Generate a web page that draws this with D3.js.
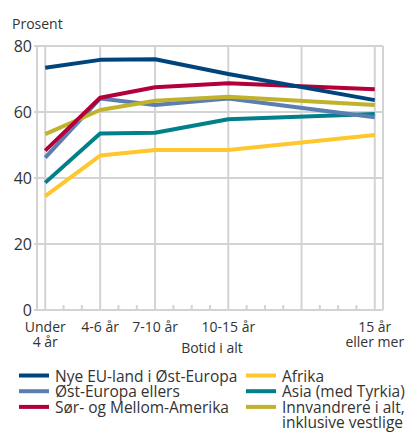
<!DOCTYPE html>
<html>
<head>
<meta charset="utf-8">
<script src="https://cdn.jsdelivr.net/npm/d3@7"></script>
<style>
  body { margin: 0; background: #fff; }
  svg { display: block; font-family: "Open Sans", sans-serif; }
</style>
</head>
<body>
<div id="chart"></div>
<script>
// botid (år) for each point, labels placed on these
const categories = ['Under\n4 år', '4-6 år', '7-10 år', '10-15 år', '15 år\neller mer'];
const years = [0, 3, 6, 10, 18];
const gridYears = [0, 3, 6, 10, 14, 18];
const yTicks = [0, 20, 40, 60, 80];

const seriesNames = [
  'Nye EU-land i Øst-Europa',
  'Øst-Europa ellers',
  'Sør- og Mellom-Amerika',
  'Afrika',
  'Asia (med Tyrkia)',
  'Innvandrere i alt,\ninklusive vestlige'
];
const nyeEu = [73.4, 75.8, 76.0, 71.5, 63.6];
const ostEuropa = [46.2, 64.1, 62.1, 64.1, 58.4];
const sorAmerika = [48.3, 64.3, 67.5, 68.7, 66.9];
const afrika = [34.5, 46.8, 48.5, 48.5, 53.0];
const asia = [38.6, 53.5, 53.7, 57.8, 59.4];
const iAlt = [53.3, 60.6, 63.4, 64.6, 62.1];

const colors = ['#00447c', '#5b7db1', '#b3003b', '#ffc72c', '#00808a', '#c1b22c'];
// drawing order (back to front)
const drawOrder = [3, 4, 1, 5, 2, 0];

const width = 406;
const height = 436;
const margin = {top: 46, right: 23, bottom: 126, left: 37};

const values = [nyeEu, ostEuropa, sorAmerika, afrika, asia, iAlt];
const series = seriesNames.map((name, i) => ({
  name,
  color: colors[i],
  points: years.map((yr, j) => ({x: yr, y: values[i][j]}))
}));

const svg = d3.select('#chart')
    .append('svg')
    .attr('width', width)
    .attr('height', height);

const x = d3.scaleLinear()
    .domain([-0.45, 18.45])
    .range([margin.left, width - margin.right]);
const y = d3.scaleLinear()
    .domain([0, 80])
    .range([height - margin.bottom, margin.top]);

const grid = svg.append('g')
    .attr('stroke', '#d3d3d3')
    .attr('stroke-width', 2)
    .attr('fill', 'none');

// horizontal grid
grid.selectAll()
    .data(yTicks)
    .join('line')
    .attr('x1', margin.left - 3)
    .attr('x2', width - margin.right)
    .attr('y1', (d) => y(d))
    .attr('y2', (d) => y(d));

// vertical grid + frame
grid.selectAll()
    .data(gridYears.concat([-0.45, 18.45]))
    .join('line')
    .attr('x1', (d) => x(d))
    .attr('x2', (d) => x(d))
    .attr('y1', y(80))
    .attr('y2', y(0));

// minor ticks, one per year
grid.selectAll()
    .data(d3.range(1, 18).filter((d) => !gridYears.includes(d)))
    .join('line')
    .attr('x1', (d) => x(d))
    .attr('x2', (d) => x(d))
    .attr('y1', y(0))
    .attr('y2', y(0) - 5);

// y tick labels
svg.append('g')
    .attr('font-size', 16)
    .attr('fill', '#333')
    .attr('text-anchor', 'end')
    .selectAll()
    .data(yTicks)
    .join('text')
    .attr('x', margin.left - 5)
    .attr('y', (d) => y(d))
    .attr('dy', '0.35em')
    .text((d) => d);

svg.append('text')
    .attr('x', 12)
    .attr('y', 29)
    .attr('font-size', 14)
    .attr('fill', '#333')
    .text('Prosent');

// x labels
const xl = svg.append('g')
    .attr('font-size', 14)
    .attr('fill', '#333')
    .attr('text-anchor', 'middle')
    .selectAll()
    .data(categories.map((c, i) => ({c, yr: years[i]})))
    .join('text')
    .attr('transform', (d) => `translate(${x(d.yr)},${y(0) + 22})`);
xl.selectAll('tspan')
    .data((d) => d.c.split('\n'))
    .join('tspan')
    .attr('x', 0)
    .attr('dy', (d, i) => i ? 15 : 0)
    .text((d) => d);

svg.append('text')
    .attr('x', 212)
    .attr('y', y(0) + 43)
    .attr('font-size', 14)
    .attr('fill', '#333')
    .attr('text-anchor', 'middle')
    .text('Botid i alt');

// lines
const line = d3.line()
    .x((d) => x(d.x))
    .y((d) => y(d.y));

svg.append('g')
    .attr('fill', 'none')
    .attr('stroke-width', 4)
    .attr('stroke-linejoin', 'round')
    .selectAll()
    .data(drawOrder.map((i) => series[i]))
    .join('path')
    .attr('stroke', (d) => d.color)
    .attr('d', (d) => line(d.points));

// legend
const legend = svg.append('g')
    .attr('font-size', 15.5)
    .attr('fill', '#333')
    .selectAll()
    .data(series)
    .join('g')
    .attr('transform', (d, i) =>
      `translate(${i < 3 ? 19 : 246},${381.5 + (i % 3) * 15.7})`);

legend.append('line')
    .attr('x1', 0)
    .attr('x2', 30)
    .attr('y1', -6)
    .attr('y2', -6)
    .attr('stroke', (d) => d.color)
    .attr('stroke-width', 4);

const lt = legend.append('text');
lt.selectAll('tspan')
    .data((d) => d.name.split('\n'))
    .join('tspan')
    .attr('x', 36)
    .attr('dy', (d, i) => i ? 15.5 : 0)
    .text((d) => d);
</script>
</body>
</html>
